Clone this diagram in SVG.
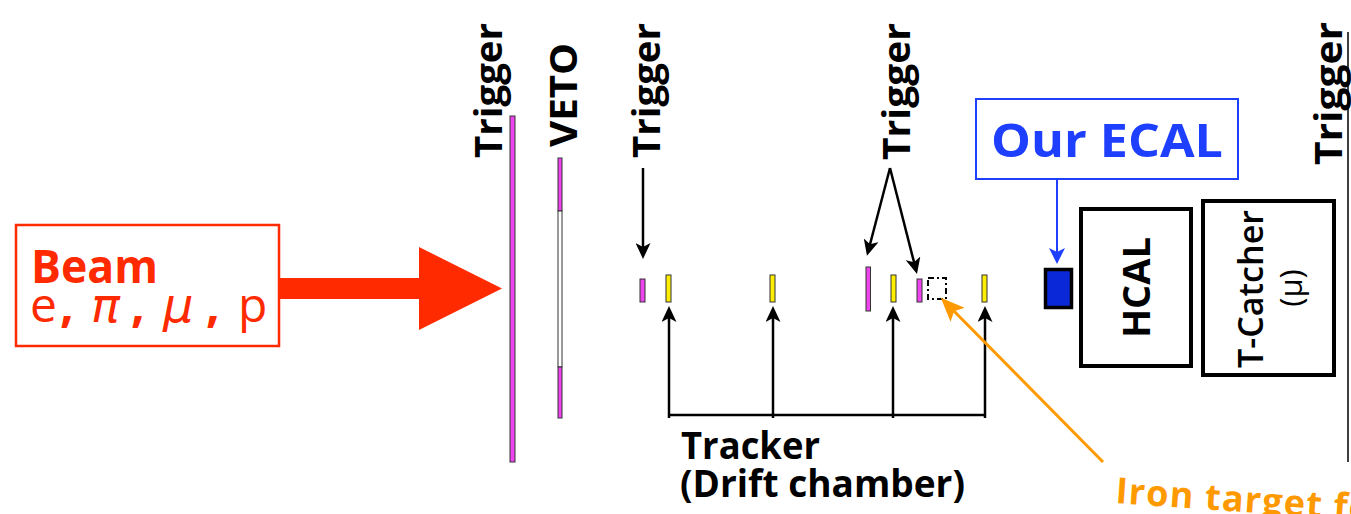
<svg xmlns="http://www.w3.org/2000/svg" width="1351" height="514" viewBox="0 0 1351 514">
  <style>
    text { font-family: "Open Sans", "DejaVu Sans", sans-serif; }
    .bold { font-weight: bold; }
    .lbl { font-size: 38px; font-weight: bold; fill: #000; }
    .mag { fill: #ee44ee; stroke: #333; stroke-width: 1; }
    .yel { fill: #ffee00; stroke: #333; stroke-width: 1; }
    .wht { fill: #ffffff; stroke: #333; stroke-width: 1; }
    .blk { stroke: #000; stroke-width: 2.5; fill: none; }
    .box { fill: #fff; stroke: #000; stroke-width: 4; }
  </style>
  <defs>
    <marker id="ah" markerUnits="userSpaceOnUse" markerWidth="16" markerHeight="15" refX="12" refY="7.5" orient="auto">
      <path d="M0,0 L16,7.5 L0,15 L4,7.5 Z" fill="#000"/>
    </marker>
    <marker id="ahBlue" markerUnits="userSpaceOnUse" markerWidth="16" markerHeight="16" refX="12" refY="8" orient="auto">
      <path d="M0,0 L16,8 L0,16 L4,8 Z" fill="#1f3fff"/>
    </marker>
    <marker id="ahOrange" markerUnits="userSpaceOnUse" markerWidth="24" markerHeight="20" refX="18" refY="10" orient="auto">
      <path d="M0,0 L24,10 L0,20 L5,10 Z" fill="#ff9900"/>
    </marker>
  </defs>

  <!-- beam source -->
  <g id="beam">
    <rect x="16" y="225" width="263" height="121" fill="#fff" stroke="#ff2a00" stroke-width="2.5"/>
    <text x="31" y="283" font-size="47" class="bold" fill="#ff2a00" textLength="127" lengthAdjust="spacingAndGlyphs">Beam</text>
    <text y="322" font-size="48" fill="#ff2a00"><tspan x="30">e</tspan><tspan x="60" font-weight="bold">,</tspan><tspan x="91" font-family="DejaVu Sans, sans-serif" font-style="italic">π</tspan><tspan x="131" font-weight="bold">,</tspan><tspan x="163" font-family="DejaVu Sans, sans-serif" font-style="italic">μ</tspan><tspan x="206" font-weight="bold">,</tspan><tspan x="238">p</tspan></text>
  </g>

  <!-- beam direction arrow -->
  <g id="beam-arrow">
    <polygon points="279,278 419,278 419,247 502,288.5 419,330 419,299 279,299" fill="#ff2a00"/>
  </g>

  <!-- upstream trigger counter -->
  <g id="trigger1">
    <rect class="mag" x="510" y="116" width="5" height="346"/>
    <text class="lbl" transform="translate(502,158) rotate(-90)" textLength="135" lengthAdjust="spacingAndGlyphs">Trigger</text>
  </g>

  <!-- veto counter with hole -->
  <g id="veto">
    <rect class="mag" x="558" y="158" width="4" height="53"/>
    <rect class="wht" x="558" y="211" width="4" height="156"/>
    <rect class="mag" x="558" y="367" width="4" height="51"/>
    <text class="lbl" transform="translate(577,147) rotate(-90)" textLength="104" lengthAdjust="spacingAndGlyphs">VETO</text>
  </g>

  <!-- second trigger label -->
  <g id="trigger2">
    <text class="lbl" transform="translate(660,158) rotate(-90)" textLength="135" lengthAdjust="spacingAndGlyphs">Trigger</text>
  </g>

  <!-- trigger pair label -->
  <g id="trigger3">
    <text class="lbl" transform="translate(910,160) rotate(-90)" textLength="137" lengthAdjust="spacingAndGlyphs">Trigger</text>
  </g>

  <!-- downstream trigger -->
  <g id="trigger4">
    <line x1="1348" y1="32" x2="1348" y2="462" stroke="#000" stroke-width="1.5"/>
    <text class="lbl" transform="translate(1342,165) rotate(-90)" textLength="143" lengthAdjust="spacingAndGlyphs">Trigger</text>
  </g>

  <!-- scintillators and drift chambers along the beam line -->
  <g id="planes">
    <rect class="mag" x="640" y="279" width="5" height="23"/>
    <rect class="yel" x="666" y="275" width="5" height="27"/>
    <rect class="yel" x="770" y="275" width="5" height="27"/>
    <rect class="mag" x="866" y="267" width="4.5" height="44"/>
    <rect class="yel" x="891" y="275" width="5" height="27"/>
    <rect class="mag" x="917" y="279" width="5" height="23"/>
    <rect class="yel" x="982" y="275" width="5" height="27"/>
  </g>

  <!-- iron target position -->
  <g id="iron-target">
    <rect x="928" y="278" width="18" height="21" fill="none" stroke="#000" stroke-width="2" stroke-dasharray="6,3,2,3"/>
    <text x="1115" y="503" font-size="36" class="bold" fill="#ff9900" letter-spacing="1.2" transform="rotate(4 1115 503)">Iron target fo</text>
  </g>

  <!-- tracker label -->
  <g id="tracker">
    <text x="681" y="459" class="lbl" textLength="139" lengthAdjust="spacingAndGlyphs">Tracker</text>
    <text x="680" y="497" class="lbl" textLength="285" lengthAdjust="spacingAndGlyphs">(Drift chamber)</text>
  </g>

  <!-- calorimeters -->
  <g id="ecal">
    <rect x="1045.5" y="269.5" width="26" height="38" fill="#0a28d8" stroke="#000" stroke-width="3.5"/>
  </g>
  <g id="our-ecal">
    <rect x="976" y="99" width="262" height="80" fill="#fff" stroke="#1f3fff" stroke-width="2"/>
    <text x="991" y="157" font-size="47" class="bold" fill="#1f3fff" textLength="232" lengthAdjust="spacingAndGlyphs">Our ECAL</text>
  </g>
  <g id="hcal">
    <rect class="box" x="1081" y="209" width="110" height="157"/>
    <text class="lbl" transform="translate(1150,338) rotate(-90)" textLength="101" lengthAdjust="spacingAndGlyphs">HCAL</text>
  </g>
  <g id="tcatcher">
    <rect class="box" x="1203" y="201" width="131" height="174"/>
    <text font-size="35" font-weight="600" fill="#000" transform="translate(1263,368) rotate(-90)" textLength="158" lengthAdjust="spacingAndGlyphs">T-Catcher</text>
    <text font-size="31" fill="#000" font-family="DejaVu Sans, sans-serif" text-anchor="middle" transform="translate(1302,288) rotate(-90)">(μ)</text>
  </g>

  <!-- connectors -->
  <g id="connectors">
    <line class="blk" x1="643" y1="168" x2="643" y2="255" marker-end="url(#ah)"/>
    <line class="blk" x1="890" y1="168" x2="868" y2="252" marker-end="url(#ah)"/>
    <line class="blk" x1="890" y1="168" x2="916" y2="270" marker-end="url(#ah)"/>
    <line class="blk" x1="669" y1="415" x2="985" y2="415"/>
    <line class="blk" x1="669" y1="418" x2="669" y2="310" marker-end="url(#ah)"/>
    <line class="blk" x1="773" y1="418" x2="773" y2="310" marker-end="url(#ah)"/>
    <line class="blk" x1="893" y1="418" x2="893" y2="310" marker-end="url(#ah)"/>
    <line class="blk" x1="985" y1="418" x2="985" y2="310" marker-end="url(#ah)"/>
    <line x1="1057" y1="180" x2="1057" y2="260" stroke="#1f3fff" stroke-width="2" marker-end="url(#ahBlue)"/>
    <line x1="1103" y1="462" x2="945" y2="302" stroke="#ff9900" stroke-width="3" marker-end="url(#ahOrange)"/>
  </g>
</svg>
